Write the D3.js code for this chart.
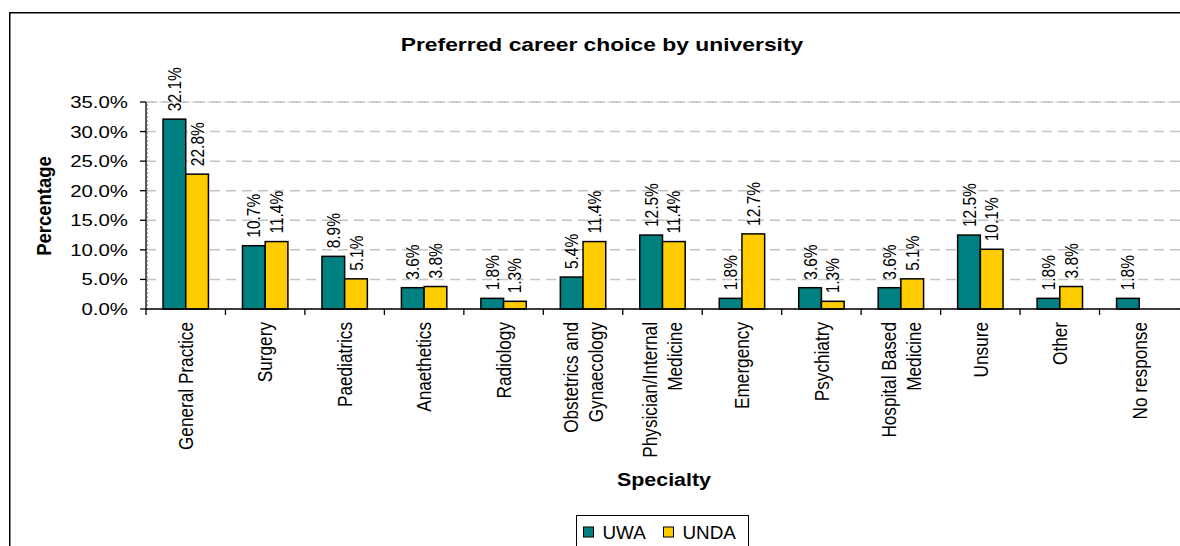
<!DOCTYPE html>
<html>
<head>
<meta charset="utf-8">
<script src="https://cdn.jsdelivr.net/npm/d3@7"></script>
<style>
  html, body { margin: 0; padding: 0; background: #fff; }
  svg { display: block; font-family: "Liberation Sans", Arial, sans-serif; }
</style>
</head>
<body>
<svg id="chart" width="1180" height="546"></svg>
<script>
// Specialty categories; multi-line labels are split on "\n"
const categories = [
  "General Practice", "Surgery", "Paediatrics", "Anaethetics", "Radiology",
  "Obstetrics and\nGynaecology", "Physician/Internal\nMedicine", "Emergency",
  "Psychiatry", "Hospital Based\nMedicine", "Unsure", "Other", "No response"
];
const seriesNames = ["UWA", "UNDA"];
const uwaValues  = [32.1, 10.7, 8.9, 3.6, 1.8, 5.4, 12.5, 1.8, 3.6, 3.6, 12.5, 1.8, 1.8];
const undaValues = [22.8, 11.4, 5.1, 3.8, 1.3, 11.4, 11.4, 12.7, 1.3, 5.1, 10.1, 3.8, null];
const yTicks = [0, 5, 10, 15, 20, 25, 30, 35];
const colors = { UWA: "#008080", UNDA: "#FFCC00" };

const svg = d3.select("#chart");
const plot = { left: 146, right: 1179, top: 102, bottom: 309 };

// Outer chart frame (runs past the right and bottom edges)
svg.append("path")
  .attr("d", "M1300,12.75 H9.75 V700")
  .attr("fill", "none").attr("stroke", "#000").attr("stroke-width", 1.5);

const x0 = d3.scaleBand().domain(categories).range([plot.left, plot.right]);
const x1 = d3.scaleBand().domain(seriesNames).range([0, x0.bandwidth()]).paddingOuter(0.75);
const y = d3.scaleLinear().domain([0, 35]).range([plot.bottom, plot.top]);

// Horizontally stretched text helper
function stretched(g, x, yPos, txt, size, sx, opts = {}) {
  return g.append("text")
    .attr("transform", `translate(${x},${yPos}) scale(${sx},1)`)
    .attr("text-anchor", opts.anchor || "middle")
    .attr("font-size", size)
    .attr("font-weight", opts.bold ? "bold" : "normal")
    .attr("fill", "#000")
    .text(txt);
}

// Title
stretched(svg, 602, 51, "Preferred career choice by university", 18, 1.27, { bold: true });

// Plot area border (dotted grey)
svg.append("rect")
  .attr("x", plot.left + 1.5).attr("y", plot.top).attr("width", plot.right - plot.left + 10)
  .attr("height", plot.bottom - plot.top)
  .attr("fill", "none").attr("stroke", "#b0b0b0").attr("stroke-width", 1.2)
  .attr("stroke-dasharray", "2,2");

// Gridlines
svg.append("g").selectAll("line")
  .data(yTicks.filter(d => d > 0))
  .join("line")
  .attr("x1", plot.left).attr("x2", plot.right + 5)
  .attr("y1", d => y(d)).attr("y2", d => y(d))
  .attr("stroke", "#c4c4c4").attr("stroke-width", 1.5)
  .attr("stroke-dasharray", "10,6");

// Bars
const groups = svg.append("g").selectAll("g")
  .data(categories.map((c, i) => ({ c, vals: [
    { s: "UWA", v: uwaValues[i] }, { s: "UNDA", v: undaValues[i] }
  ].filter(d => d.v != null) })))
  .join("g")
  .attr("transform", d => `translate(${x0(d.c)},0)`);

groups.selectAll("rect")
  .data(d => d.vals)
  .join("rect")
  .attr("x", d => x1(d.s))
  .attr("y", d => y(d.v))
  .attr("width", x1.bandwidth())
  .attr("height", d => y(0) - y(d.v))
  .attr("fill", d => colors[d.s])
  .attr("stroke", "#000").attr("stroke-width", 1.5);

// Value labels, rotated
groups.selectAll("text.val")
  .data(d => d.vals)
  .join("text")
  .attr("class", "val")
  .attr("transform", d => `translate(${x1(d.s) + x1.bandwidth() / 2},${y(d.v) - 8}) rotate(-90) scale(1,1.2)`)
  .attr("dy", "0.35em")
  .attr("text-anchor", "start")
  .attr("font-size", 15.5)
  .text(d => d.v.toFixed(1) + "%");

// Y axis
const yAxis = svg.append("g").attr("transform", `translate(${plot.left},0)`);
yAxis.append("line").attr("x1", 0).attr("x2", 0).attr("y1", plot.top).attr("y2", plot.bottom)
  .attr("stroke", "#000").attr("stroke-width", 1.3);
yAxis.selectAll("line.tick").data(yTicks).join("line").attr("class", "tick")
  .attr("x1", -6).attr("x2", 0).attr("y1", d => y(d)).attr("y2", d => y(d))
  .attr("stroke", "#000").attr("stroke-width", 1.3);
yTicks.forEach(t => {
  stretched(yAxis, -18, y(t) + 6, t.toFixed(1) + "%", 17, 1.2, { anchor: "end" });
});

// X axis
const xAxis = svg.append("g");
xAxis.append("line").attr("x1", plot.left).attr("x2", 1180)
  .attr("y1", plot.bottom).attr("y2", plot.bottom)
  .attr("stroke", "#000").attr("stroke-width", 1.3);
xAxis.selectAll("line.tick").data(categories).join("line").attr("class", "tick")
  .attr("x1", d => x0(d)).attr("x2", d => x0(d))
  .attr("y1", plot.bottom).attr("y2", plot.bottom + 6)
  .attr("stroke", "#000").attr("stroke-width", 1.3);

// Category labels, rotated, possibly two lines
const lineGap = 25;
categories.forEach(c => {
  const lines = c.split("\n");
  const cx = x0(c) + x0.bandwidth() / 2;
  lines.forEach((ln, i) => {
    const off = (i - (lines.length - 1) / 2) * lineGap;
    xAxis.append("text")
      .attr("transform", `translate(${cx + off},${plot.bottom + 13}) rotate(-90) scale(1,1.2)`)
      .attr("dy", "0.35em")
      .attr("text-anchor", "end")
      .attr("font-size", 17.2)
      .text(ln);
  });
});

// Axis titles
svg.append("text")
  .attr("transform", `translate(44,206) rotate(-90) scale(1,1.1)`)
  .attr("dy", "0.35em")
  .attr("text-anchor", "middle")
  .attr("font-size", 18.5).attr("font-weight", "bold")
  .text("Percentage");
stretched(svg, 664, 486, "Specialty", 18, 1.19, { bold: true });

// Legend
const legend = svg.append("g");
legend.append("rect").attr("x", 576.5).attr("y", 515.5).attr("width", 172).attr("height", 60)
  .attr("fill", "#fff").attr("stroke", "#000").attr("stroke-width", 1);
const legendItems = [
  { s: "UWA", x: 583.5 },
  { s: "UNDA", x: 663.5 }
];
legendItems.forEach(it => {
  legend.append("rect").attr("x", it.x).attr("y", 527).attr("width", 10).attr("height", 10)
    .attr("fill", colors[it.s]).attr("stroke", "#000").attr("stroke-width", 1);
  stretched(legend, it.x + 19, 538.5, it.s, 18.5, 1.02, { anchor: "start" });
});
</script>
</body>
</html>
